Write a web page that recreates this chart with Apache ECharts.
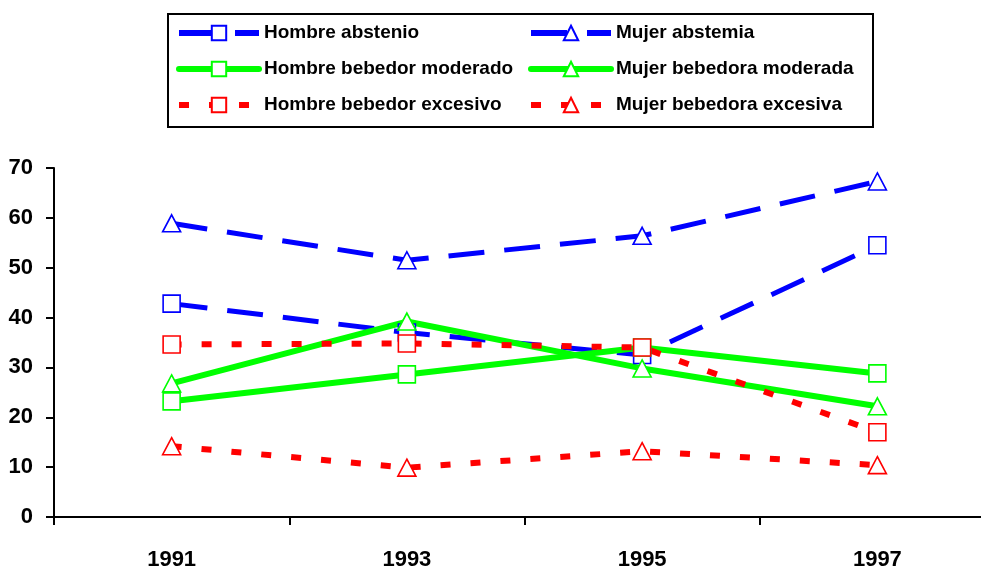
<!DOCTYPE html>
<html>
<head>
<meta charset="utf-8">
<script src="https://cdn.jsdelivr.net/npm/echarts@6/dist/echarts.min.js"></script>
<style>
html,body{margin:0;padding:0;background:#fff;}
#chart{width:981px;height:570px;}
</style>
</head>
<body>
<div id="chart"></div>
<script>
const years = ['1991', '1993', '1995', '1997'];
const yTicks = [0, 10, 20, 30, 40, 50, 60, 70];
const seriesNames = [
  'Hombre abstenio', 'Mujer abstemia',
  'Hombre bebedor moderado', 'Mujer bebedora moderada',
  'Hombre bebedor excesivo', 'Mujer bebedora excesiva'
];
const hombreAbstenio = [42.8, 37.0, 32.5, 54.5];
const mujerAbstemia = [58.9, 51.5, 56.4, 67.3];
const hombreModerado = [23.2, 28.6, 34.0, 28.8];
const mujerModerada = [26.8, 39.2, 29.8, 22.2];
const hombreExcesivo = [34.6, 34.8, 34.0, 17.0];
const mujerExcesiva = [14.2, 9.9, 13.2, 10.4];

const FONT = "'Liberation Sans', Arial, sans-serif";
const BLUE = '#0000ff', GREEN = '#00ff00', RED = '#ff0000';
const DASH_BLUE = [36, 20], DASH_RED = [10, 20];

function mk(name, data, color, symbol, lineType, width) {
  return {
    name: name,
    type: 'line',
    data: data,
    symbol: symbol,
    symbolSize: symbol === 'triangle' ? [18, 17] : 17,
    showSymbol: true,
    lineStyle: { color: color, width: width, type: lineType, cap: 'butt' },
    itemStyle: { color: '#ffffff', borderColor: color, borderWidth: 1.6 },
    emphasis: { disabled: true },
    animation: false
  };
}
function li(name, lineType, cap) {
  return { name: name, lineStyle: { width: 6, type: lineType, cap: cap || 'butt' } };
}

const chart = echarts.init(document.getElementById('chart'), null, { renderer: 'canvas' });
const legendText = { fontFamily: FONT, fontSize: 19, fontWeight: 'bold', color: '#000', lineHeight: 22 };
chart.setOption({
  backgroundColor: '#ffffff',
  animation: false,
  grid: { left: 54, right: -14, top: 168, bottom: 53, outerBoundsMode: 'none', containLabel: false },
  legend: [
    {
      data: [li(seriesNames[0], DASH_BLUE), li(seriesNames[2], 'solid', 'round'), li(seriesNames[4], DASH_RED)],
      orient: 'vertical', left: 171, top: 17,
      itemWidth: 80, itemHeight: 18, itemGap: 14,
      textStyle: legendText, selectedMode: false
    },
    {
      data: [li(seriesNames[1], DASH_BLUE), li(seriesNames[3], 'solid', 'round'), li(seriesNames[5], DASH_RED)],
      orient: 'vertical', left: 523, top: 17,
      itemWidth: 80, itemHeight: 18, itemGap: 14,
      textStyle: legendText, selectedMode: false
    }
  ],
  graphic: [{
    type: 'rect',
    shape: { x: 168, y: 14, width: 705, height: 113 },
    style: { fill: 'none', stroke: '#000', lineWidth: 2 },
    silent: true
  }],
  xAxis: {
    type: 'category',
    data: years,
    boundaryGap: true,
    axisLine: { lineStyle: { color: '#000', width: 2 } },
    axisTick: { show: true, length: 8, lineStyle: { color: '#000', width: 2 } },
    axisLabel: { fontFamily: FONT, fontSize: 22, fontWeight: 'bold', color: '#000', margin: 32 },
    splitLine: { show: false }
  },
  yAxis: {
    type: 'value',
    min: yTicks[0], max: yTicks[yTicks.length - 1], interval: 10,
    axisLine: { show: true, lineStyle: { color: '#000', width: 2 } },
    axisTick: { show: true, length: 8, lineStyle: { color: '#000', width: 2 } },
    axisLabel: { fontFamily: FONT, fontSize: 22, fontWeight: 'bold', color: '#000', margin: 21 },
    splitLine: { show: false }
  },
  series: [
    mk(seriesNames[0], hombreAbstenio, BLUE, 'rect', DASH_BLUE, 5),
    mk(seriesNames[1], mujerAbstemia, BLUE, 'triangle', DASH_BLUE, 5),
    mk(seriesNames[2], hombreModerado, GREEN, 'rect', 'solid', 6),
    mk(seriesNames[3], mujerModerada, GREEN, 'triangle', 'solid', 6),
    mk(seriesNames[4], hombreExcesivo, RED, 'rect', DASH_RED, 6),
    mk(seriesNames[5], mujerExcesiva, RED, 'triangle', DASH_RED, 6)
  ]
});
</script>
</body>
</html>
